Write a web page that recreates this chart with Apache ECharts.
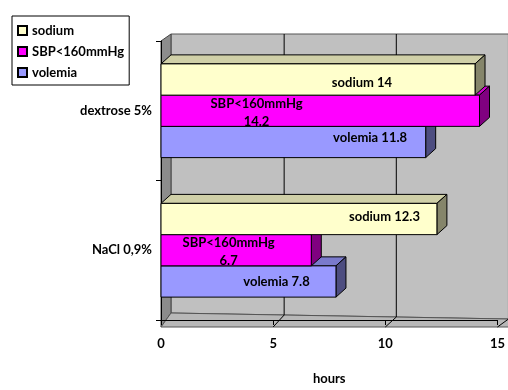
<!DOCTYPE html>
<html><head><meta charset="utf-8">
<script src="https://cdn.jsdelivr.net/npm/echarts@6/dist/echarts.min.js"></script>
<style>html,body{margin:0;padding:0;background:#fff}#c{width:508px;height:390px}</style>
</head><body><div id="c"></div>
<script>
// ---- data ----
const categories = ['dextrose 5%', 'NaCl 0,9%'];
const seriesNames = ['sodium', 'SBP<160mmHg', 'volemia'];
const sodium = [14, 12.3];
const sbp = [14.2, 6.7];
const volemia = [11.8, 7.8];
const xTicks = [0, 5, 10, 15];
const xName = 'hours';

// ---- layout / style (not data) ----
const FONT = 'Lato';
const GRID = {left: 161, right: 5, top: 41, bottom: 63};
const DX = 10, DY = -9;          // bar depth offset
const BAR_FRAC = 0.224;          // bar thickness as fraction of category band
const labelFrac = {              // label centre as fraction of bar length
  sodium: [0.64, 0.81],
  sbp: [0.30, 0.45],
  volemia: [0.79, 0.66]
};
const labelDy = {sodium: [3, -2], sbp: [2, 2], volemia: [-4, 0]};

const styles = {
  sodium:  {front: '#FFFFCC', top: '#D0D0A8', side: '#85856A'},
  sbp:     {front: '#FF00FF', top: '#CC00CC', side: '#800080'},
  volemia: {front: '#9999FF', top: '#7A7ACC', side: '#4D4D80'}
};

function makeRender(key, slot, textFn) {
  const col = styles[key];
  return function (params, api) {
    const v = api.value(0), c = api.value(1);
    const i = params.dataIndex;
    const p0 = api.coord([0, c]);
    const p1 = api.coord([v, c]);
    const band = api.size([0, 1])[1];
    const h = band * BAR_FRAC;
    const y0 = p0[1] + (slot - 1.5) * h, y1 = y0 + h;
    const x0 = p0[0], x1 = p1[0];
    const ln = {stroke: '#000', lineWidth: 1};
    const lx = api.coord([v * labelFrac[key][i], c])[0];
    return {
      type: 'group',
      children: [
        {type: 'polygon', shape: {points: [[x0, y0], [x0 + DX, y0 + DY], [x1 + DX, y0 + DY], [x1, y0]]},
         style: Object.assign({fill: col.top}, ln)},
        {type: 'polygon', shape: {points: [[x1, y0], [x1 + DX, y0 + DY], [x1 + DX, y1 + DY], [x1, y1]]},
         style: Object.assign({fill: col.side}, ln)},
        {type: 'rect', shape: {x: x0, y: y0, width: x1 - x0, height: h},
         style: Object.assign({fill: col.front}, ln)},
        {type: 'text', x: lx, y: (y0 + y1) / 2 + labelDy[key][i],
         style: {text: textFn(v), fill: '#000', font: 'bold 13px ' + FONT,
                 align: 'center', verticalAlign: 'middle', lineHeight: 18}}
      ]
    };
  };
}

function seriesOf(name, key, slot, arr, textFn) {
  return {
    name: name, type: 'custom',
    coordinateSystem: 'cartesian2d',
    encode: {x: 0, y: 1},
    itemStyle: {color: styles[key].front, borderColor: '#000', borderWidth: 1},
    data: arr.map((v, i) => [v, i]),
    renderItem: makeRender(key, slot, textFn)
  };
}

const bold = {fontFamily: FONT, fontWeight: 700, fontSize: 13, color: '#000'};
const chart = echarts.init(document.getElementById('c'), null, {renderer: 'canvas'});
const option = {
  animation: false,
  backgroundColor: '#fff',
  textStyle: {fontFamily: FONT},
  grid: Object.assign({containLabel: false}, GRID),
  legend: {
    data: seriesNames,
    orient: 'vertical', left: 12, top: 16,
    backgroundColor: '#fff', borderColor: '#000', borderWidth: 1,
    padding: [8, 5, 6, 5], itemGap: 8,
    itemWidth: 9, itemHeight: 9, icon: 'rect',
    textStyle: bold,
    selectedMode: false
  },
  xAxis: {
    type: 'value', min: xTicks[0], max: xTicks[xTicks.length - 1], interval: xTicks[1] - xTicks[0],
    axisLine: {show: true, lineStyle: {color: '#000', width: 1}},
    axisTick: {show: true, length: 5, lineStyle: {color: '#000'}},
    axisLabel: Object.assign({margin: 17}, bold),
    splitLine: {show: false},
    name: xName, nameLocation: 'middle', nameGap: 52,
    nameTextStyle: bold
  },
  yAxis: {
    type: 'category', inverse: true, data: categories,
    axisLine: {show: true, lineStyle: {color: '#000', width: 1}},
    axisTick: {show: true, length: 5, lineStyle: {color: '#000'}},
    axisLabel: Object.assign({margin: 9}, bold),
    splitLine: {show: false}
  },
  series: [
    seriesOf(seriesNames[2], 'volemia', 2, volemia, v => 'volemia ' + v),
    seriesOf(seriesNames[1], 'sbp', 1, sbp, v => 'SBP<160mmHg\n' + v),
    seriesOf(seriesNames[0], 'sodium', 0, sodium, v => 'sodium ' + v)
  ]
};
chart.setOption(option);

// ---- 3D walls computed from the axes ----
const px = v => chart.convertToPixel({xAxisIndex: 0}, v);
const yTop = GRID.top, yBot = 390 - GRID.bottom;
const WDX = 10, wallTop = yTop - 7;
const xL = px(xTicks[0]), xR = px(xTicks[xTicks.length - 1]);
const backL = yBot - 14, backR = yBot - 8;
const backY = x => backL + (backR - backL) * (x - (xL + WDX)) / ((xR + WDX) - (xL + WDX));
const g = [];
g.push({type: 'polygon', z: -5, shape: {points: [[xL + WDX, wallTop], [xR + WDX + 20, wallTop], [xR + WDX + 20, backY(xR + WDX + 20)], [xL + WDX, backL]]},
  style: {fill: '#C0C0C0', stroke: '#555', lineWidth: 1}});
g.push({type: 'polygon', z: -5, shape: {points: [[xL, yTop], [xL + WDX, wallTop], [xL + WDX, backL], [xL, yBot]]},
  style: {fill: '#8C8C8C', stroke: '#444', lineWidth: 1}});
g.push({type: 'polygon', z: -5, shape: {points: [[xL, yBot], [xL + WDX, backL], [xR + WDX + 20, backY(xR + WDX + 20)], [xR + 20, yBot]]},
  style: {fill: '#B8B8B8', stroke: '#555', lineWidth: 1}});
xTicks.slice(1).forEach(t => {
  const x = px(t);
  g.push({type: 'line', z: -4, shape: {x1: x + WDX + 1, y1: wallTop, x2: x + WDX + 1, y2: backY(x + WDX + 1)},
    style: {stroke: '#000', lineWidth: 1}});
  g.push({type: 'line', z: -4, shape: {x1: x, y1: yBot, x2: x + WDX + 1, y2: backY(x + WDX + 1)},
    style: {stroke: '#000', lineWidth: 1}});
});
chart.setOption({graphic: {elements: g}});
</script>
</body></html>
